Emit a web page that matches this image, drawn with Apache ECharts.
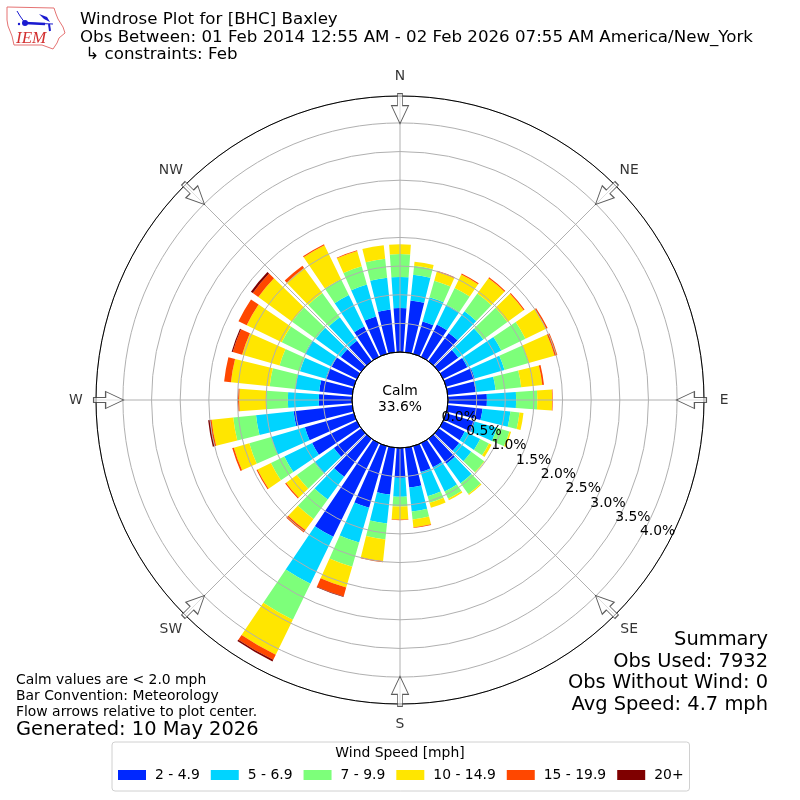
<!DOCTYPE html>
<html>
<head>
<meta charset="utf-8">
<style>html,body{margin:0;padding:0;background:#fff}#c{width:800px;height:800px}</style>
<script src="https://cdn.jsdelivr.net/npm/echarts@6/dist/echarts.min.js"></script>
</head>
<body>
<div id="c"></div>
<script>
const directions = ['0','10','20','30','40','50','60','70','80','90','100','110','120','130','140','150','160','170','180','190','200','210','220','230','240','250','260','270','280','290','300','310','320','330','340','350'];
const speed2to5 = [.77,.91,.59,.63,.61,.42,.47,.52,.49,.68,.61,.52,.42,.44,.54,.47,.47,.70,.52,.82,1.12,1.82,.82,.59,.87,.89,1.03,.58,.58,.51,.49,.44,.44,.59,.68,.75];
const speed5to7 = [.54,.45,.44,.38,.47,.54,.66,.54,.35,.51,.49,.40,.30,.26,.42,.47,.44,.42,.33,.51,.63,.91,.49,.42,.54,.61,.66,.54,.42,.47,.52,.54,.51,.61,.58,.56];
const speed7to10 = [.40,.16,.30,.33,.38,.52,.47,.44,.45,.37,.16,.23,.17,.28,.23,.14,.12,.14,.17,.28,.44,.70,.42,.38,.26,.40,.40,.38,.45,.37,.45,.51,.52,.31,.33,.33];
const speed10to15 = [.17,.07,.16,.26,.33,.35,.40,.47,.37,.26,.07,.03,.05,.01,.02,.03,.09,.14,.23,.38,.38,.68,.24,.23,.26,.28,.38,.47,.68,.68,.68,.73,.54,.66,.28,.24];
const speed15to20 = [0,0,.02,.02,.02,.02,.03,.05,.03,.01,0,0,0,0,0,0,0,.01,.01,.02,.16,.10,.05,.02,.02,.03,.03,.02,.12,.17,.16,.12,.05,.02,.01,0];
const speed20plus = [0,0,0,0,0,0,0,0,0,0,0,0,0,0,0,0,0,0,0,0,.01,.03,0,0,0,0,.03,0,0,.02,0,.04,0,0,0,0];
const speedNames = ['2 - 4.9','5 - 6.9','7 - 9.9','10 - 14.9','15 - 19.9','20+'];
const speedColors = ['#0028ff','#00d4ff','#7dff7a','#ffe600','#ff4700','#7f0000'];
const speedValues = [speed2to5,speed5to7,speed7to10,speed10to15,speed15to20,speed20plus];
const compassAngles = [0,45,90,135,180,225,270,315];
const compassLabels = {0:'N',45:'NE',90:'E',135:'SE',180:'S',225:'SW',270:'W',315:'NW'};
const radiusMax = 4.47;
const arrowRadius = 4.25;
const compassLabelRadius = 4.82;
const titleLines = ['Windrose Plot for [BHC] Baxley','Obs Between: 01 Feb 2014 12:55 AM - 02 Feb 2026 07:55 AM America/New_York',' \u21b3 constraints: Feb'];
const noteLines = ['Calm values are < 2.0 mph','Bar Convention: Meteorology','Flow arrows relative to plot center.'];
const generated = 'Generated: 10 May 2026';
const summaryLines = ['Summary','Obs Used: 7932','Obs Without Wind: 0','Avg Speed: 4.7 mph'];
const calmText = 'Calm\n33.6%';

const FONT = '"DejaVu Sans"';
const chart = echarts.init(document.getElementById('c'), null, {renderer:'canvas'});
const text = (x,y,t,size,align,extra)=>({type:'text',x,y,z:20,style:Object.assign({text:t,fill:'#000',font:size+'px '+FONT,align:align||'left',verticalAlign:'middle'},extra||{})});

const graphics = [];
titleLines.forEach((t,i)=>graphics.push(text(80,20+i*17.5,t,16.67)));
noteLines.forEach((t,i)=>graphics.push(text(16,680+i*16,t,13.9)));
graphics.push(text(16,730,generated,19.44));
summaryLines.forEach((t,i)=>graphics.push(text(768,640+i*21.7,t,19.44,'right')));
graphics.push(text(400,399,calmText,13.9,'center',{lineHeight:16}));
graphics.push(text(400,753,'Wind Speed [mph]',13.9,'center'));
// IEM logo
const BLUE='#1a1ad0';
graphics.push({type:'polygon',z:20,shape:{points:[[7,7],[54,8],[56,14],[58,19],[63,27],[65,33],[59,38],[57,43],[53,49],[42,45],[14,45],[12,36],[8,26],[7,20]]},style:{fill:'#fff',stroke:'#e57373',lineWidth:1}});
graphics.push({type:'polyline',z:21,shape:{points:[[25,23],[53,24]]},style:{stroke:BLUE,lineWidth:1}});
graphics.push({type:'polyline',z:21,shape:{points:[[25,23],[45,24]]},style:{stroke:BLUE,lineWidth:2.5}});
graphics.push({type:'polyline',z:21,shape:{points:[[17,11],[20,16],[25,23]]},style:{stroke:BLUE,lineWidth:1}});
graphics.push({type:'polygon',z:21,shape:{points:[[39,14],[47,17],[50,22],[44,19]]},style:{fill:BLUE}});
graphics.push({type:'polyline',z:21,shape:{points:[[49,24],[50,31]]},style:{stroke:BLUE,lineWidth:2}});
graphics.push({type:'circle',z:21,shape:{cx:25,cy:23,r:3},style:{fill:BLUE}});
graphics.push({type:'circle',z:21,shape:{cx:19,cy:24,r:1.2},style:{fill:BLUE}});
graphics.push(text(16,39,'IEM',17,'left',{fill:'#d32f2f',font:'italic 17px "Liberation Serif"'}));

const series = speedNames.map((name,i)=>({
  name,type:'bar',coordinateSystem:'polar',polarIndex:0,stack:'wind',
  data:speedValues[i].map(v=>v===0?null:v),barWidth:'80%',silent:true,
  itemStyle:{color:speedColors[i]},z:2,animation:false
}));
series.push({
  type:'scatter',coordinateSystem:'polar',polarIndex:1,z:8,animation:false,silent:true,
  data:compassAngles.map(a=>[arrowRadius,a]),
  symbol:'path://M6,0 L11,0 L11,12 L17,12 L8.5,30 L0,12 L6,12 Z',
  symbolSize:[17,30],
  symbolRotate:(v,p)=>-p.data[1],
  itemStyle:{color:'rgba(255,255,255,0.75)',borderColor:'#333',borderWidth:1}
});
series.push({
  type:'scatter',coordinateSystem:'polar',polarIndex:1,z:9,animation:false,silent:true,clip:false,
  data:compassAngles.map(a=>[compassLabelRadius,a]),
  symbolSize:1,itemStyle:{color:'rgba(0,0,0,0)'},
  label:{show:true,position:'inside',align:'center',verticalAlign:'middle',color:'#000',fontSize:13.9,fontFamily:FONT,
    formatter:p=>compassLabels[p.data[1]]},
  labelLayout:{hideOverlap:false}
});

chart.setOption({
  animation:false,
  backgroundColor:'#fff',
  textStyle:{fontFamily:FONT},
  polar:[
    {center:[400,400],radius:[48,304]},
    {center:[400,400],radius:[48,304]},
    {center:[400,400],radius:[48,304]},
    {center:[400,400],radius:[0,48]}
  ],
  angleAxis:[
    {polarIndex:0,type:'category',data:directions,startAngle:95,clockwise:true,boundaryGap:true,show:false},
    {polarIndex:1,type:'value',min:0,max:360,interval:45,startAngle:90,clockwise:true,z:5,
      axisLine:{show:true,lineStyle:{color:'#000',width:1}},axisTick:{show:false},
      splitLine:{show:true,lineStyle:{color:'#b0b0b0',width:1}},
      axisLabel:{show:false}},
    {polarIndex:2,type:'value',min:0,max:360,startAngle:-30,clockwise:true,show:false},
    {polarIndex:3,type:'value',min:0,max:360,startAngle:90,z:5,
      axisLine:{show:true,lineStyle:{color:'#000',width:1}},axisTick:{show:false},axisLabel:{show:false},splitLine:{show:false}}
  ],
  radiusAxis:[
    {polarIndex:0,type:'value',min:0,max:radiusMax,show:false},
    {polarIndex:1,type:'value',min:0,max:radiusMax,interval:.5,z:5,
      axisLine:{show:false},axisTick:{show:false},axisLabel:{show:false},
      splitLine:{show:true,lineStyle:{color:'#b0b0b0',width:1}}},
    {polarIndex:2,type:'value',min:0,max:radiusMax,interval:.5,z:7,
      axisLine:{show:false},axisTick:{show:false},splitLine:{show:false},
      axisLabel:{show:true,margin:0,align:'left',verticalAlign:'bottom',rotate:0,color:'#000',fontSize:13.9,fontFamily:FONT,showMaxLabel:false,hideOverlap:false,
        formatter:v=>v<=4?v.toFixed(1)+'%':''}},
    {polarIndex:3,type:'value',min:0,max:1,show:false}
  ],
  legend:{
    left:112,top:742,
    orient:'horizontal',
    padding:[26,6,9,6],
    backgroundColor:'#fff',borderColor:'#d0d0d0',borderWidth:1,borderRadius:3,
    itemWidth:28,itemHeight:10,itemGap:11,icon:'rect',
    data:speedNames,
    textStyle:{fontSize:13.9,fontFamily:FONT,color:'#000',padding:[0,0,0,4]},
    selectedMode:false
  },
  graphic:graphics,
  series
});
</script>
</body>
</html>
